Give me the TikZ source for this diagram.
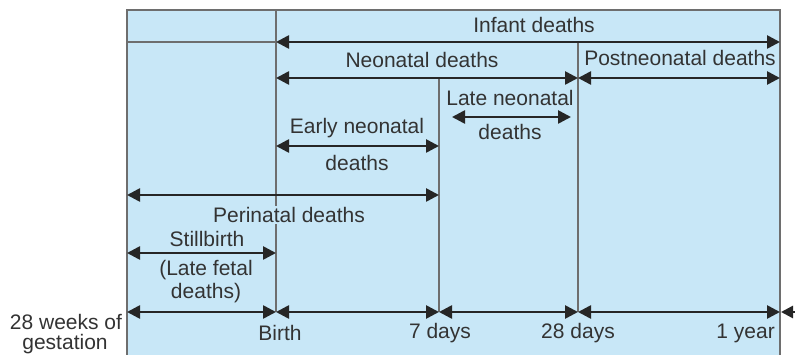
\documentclass[tikz,border=0pt]{standalone}
\usepackage{fontspec}
\setmainfont{Liberation Sans}
\usetikzlibrary{arrows.meta,positioning}
\definecolor{panel}{HTML}{C8E7F7}
\definecolor{rule}{HTML}{6E6E6E}
\definecolor{ink}{HTML}{333333}
\tikzset{
  span/.style={{Triangle[length=13pt,width=13pt]}-{Triangle[length=13pt,width=13pt]}, line width=2.6pt, draw=black!85},
  tipleft/.style={-{Triangle[length=12pt,width=12pt]}, line width=2.6pt, draw=black!85},
  divider/.style={draw=rule, line width=1.2pt},
  lbl/.style={font=\fontsize{21}{25}\selectfont, text=ink, inner sep=1pt}
}
\begin{document}
\begin{tikzpicture}[x=1pt,y=-1pt]
  \useasboundingbox (0,0) rectangle (795,355);
  % panel
  \fill[panel] (127,10) rectangle (780,360);
  \draw[divider] (127,360) -- (127,10) -- (780,10) -- (780,360);
  \draw[divider] (127,42) -- (276,42);
  % ticks
  \coordinate (g0) at (127,312);
  \coordinate (b0) at (276,312);
  \coordinate (d7) at (439,312);
  \coordinate (d28) at (578,312);
  \coordinate (y1) at (780,312);
  \coordinate (edge) at (795,312);
  \draw[divider] (276,10) -- (b0);
  \draw[divider] (439,78) -- (d7);
  \draw[divider] (578,42) -- (d28);
  % infant / neonatal / postneonatal
  \coordinate (inA) at (276,42);  \coordinate (inB) at (780,42);
  \coordinate (neA) at (276,78);  \coordinate (neB) at (578,78);
  \coordinate (poA) at (578,78);  \coordinate (poB) at (780,78);
  \draw[span] (inA) -- (inB);
  \draw[span] (neA) -- (neB);
  \draw[span] (poA) -- (poB);
  \node[lbl] (infant) at (534,25) {Infant deaths};
  \node[lbl] (neonatal) at (422,60) {Neonatal deaths};
  \node[lbl] (postneo) at (680,58) {Postneonatal deaths};
  % late neonatal
  \coordinate (laA) at (452,117); \coordinate (laB) at (571,117);
  \draw[span] (laA) -- (laB);
  \node[lbl] (late1) at (510,98) {Late neonatal};
  \node[lbl] (late2) at (510,132) {deaths};
  % early neonatal
  \coordinate (eaA) at (276,146); \coordinate (eaB) at (439,146);
  \draw[span] (eaA) -- (eaB);
  \node[lbl] (early1) at (357,128) {Early neonatal};
  \node[lbl] (early2) at (357,163) {deaths};
  % perinatal
  \coordinate (peA) at (127,195); \coordinate (peB) at (439,195);
  \draw[span] (peA) -- (peB);
  \node[lbl, fill=panel] (perinatal) at (289,215) {Perinatal deaths};
  % stillbirth
  \coordinate (stA) at (127,253); \coordinate (stB) at (276,253);
  \draw[span] (stA) -- (stB);
  \node[lbl] (still) at (207,239) {Stillbirth};
  \node[lbl] (fetal1) at (206,270) {(Late fetal};
  \node[lbl] (fetal2) at (206,293) {deaths)};
  % time axis
  \draw[span] (g0) -- (b0);
  \draw[span] (b0) -- (d7);
  \draw[span] (d7) -- (d28);
  \draw[span] (d28) -- (y1);
  \draw[tipleft] (edge) -- ([xshift=1pt]y1);
  \node[lbl] (birth) at (280,333) {Birth};
  \node[lbl] (seven) at (440,333) {7 days};
  \node[lbl] (twentyeight) at (578,333) {28 days};
  \node[lbl, anchor=east] (year) at (776,333) {1 year};
  \node[lbl] (weeks) at (66,322) {28 weeks of};
  \node[lbl] (gest) at (65,344) {gestation};
\end{tikzpicture}
\end{document}
